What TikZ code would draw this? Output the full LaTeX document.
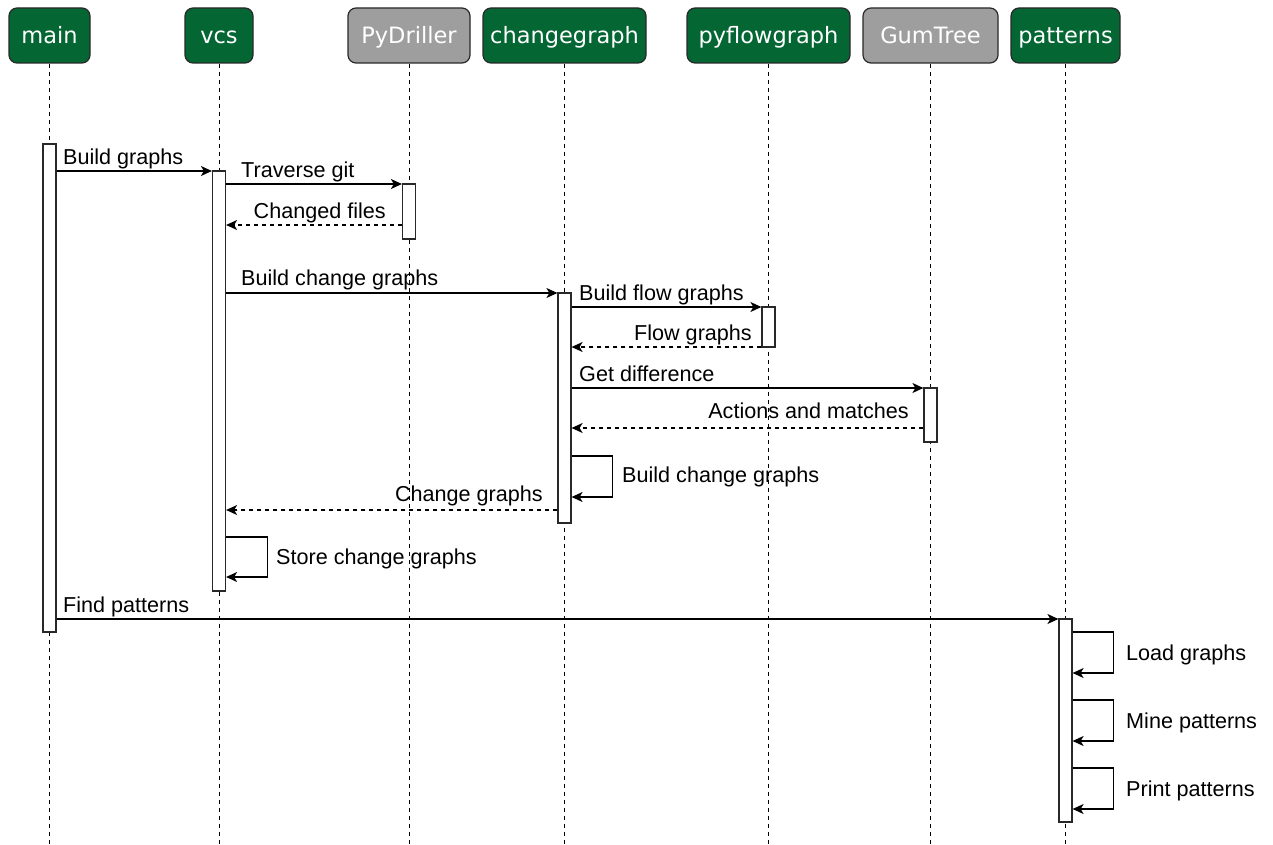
\documentclass[tikz,border=0pt]{standalone}
\usepackage{fontspec}
\setmainfont{Liberation Sans}
\newfontfamily\headfont{DejaVu Sans}
\usetikzlibrary{arrows.meta}
\definecolor{modgreen}{RGB}{3,102,51}
\definecolor{extgray}{RGB}{158,158,158}
\definecolor{edgegray}{RGB}{40,40,40}

\begin{document}
\begin{tikzpicture}[x=1pt,y=-1pt,
  head/.style={draw=edgegray, line width=1.2pt, rounded corners=8pt, minimum height=55pt,
    inner sep=0pt, text height=17pt, text depth=0pt, text=white,
    font=\headfont\fontsize{22.5}{26}\selectfont},
  module/.style={head, fill=modgreen},
  extlib/.style={head, fill=extgray},
  lifeline/.style={draw=black, line width=0.9pt, dash pattern=on 4pt off 4pt},
  act/.style={draw=edgegray, fill=white, line width=1.2pt, minimum width=13pt, inner sep=0pt},
  call/.style={draw=black, line width=1.2pt, -{Stealth[length=11pt,width=10pt,inset=3pt]}},
  reply/.style={call, dash pattern=on 4pt off 4pt},
  lbl/.style={font=\fontsize{21.6}{26}\selectfont, inner sep=0pt}
]
\useasboundingbox (0,0) rectangle (1273,845);

% participants
\node[module, minimum width=81pt]  (main)  at (49.5,35.5)  {main};
\node[module, minimum width=68pt]  (vcs)   at (219,35.5)   {vcs};
\node[extlib, minimum width=122pt] (pyd)   at (409,35.5)   {PyDriller};
\node[module, minimum width=163pt] (cg)    at (564.5,35.5) {changegraph};
\node[module, minimum width=163pt] (pfg)   at (768.5,35.5) {pyflowgraph};
\node[extlib, minimum width=135pt] (gum)   at (930.5,35.5) {GumTree};
\node[module, minimum width=109pt] (pat)   at (1065.5,35.5){patterns};

% lifelines
\foreach \p in {main,vcs,pyd,cg,pfg,gum,pat}
  \draw[lifeline] (\p.south) -- (\p.south |- 0,845);

% activations
\node[act, minimum height=488pt] (mainA) at (main.south |- 0,388)  {};
\node[act, minimum height=420pt] (vcsA)  at (vcs.south |- 0,381)   {};
\node[act, minimum height=55pt]  (pydA)  at (pyd.south |- 0,211.5) {};
\node[act, minimum height=230pt] (cgA)   at (cg.south |- 0,408)    {};
\node[act, minimum height=40pt]  (pfgA)  at (pfg.south |- 0,327)   {};
\node[act, minimum height=54pt]  (gumA)  at (gum.south |- 0,415)   {};
\node[act, minimum height=203pt] (patA)  at (pat.south |- 0,720.5) {};

% messages
\draw[call]  (mainA.east |- 0,171) -- (vcsA.west |- 0,171);
\node[lbl, anchor=base west] (m1) at (63,165) {Build graphs};

\draw[call]  (vcsA.east |- 0,184) -- (pydA.west |- 0,184);
\node[lbl, anchor=base west] (m2) at (241,178) {Traverse git};

\draw[reply] (pydA.west |- 0,225) -- (vcsA.east |- 0,225);
\node[lbl, anchor=base east] (m3) at (386,218) {Changed files};

\draw[call]  (vcsA.east |- 0,293) -- (cgA.west |- 0,293);
\node[lbl, anchor=base west] (m4) at (241,285) {Build change graphs};

\draw[call]  (cgA.east |- 0,307) -- (pfgA.west |- 0,307);
\node[lbl, anchor=base west] (m5) at (579,300) {Build flow graphs};

\draw[reply] (pfgA.west |- 0,347) -- (cgA.east |- 0,347);
\node[lbl, anchor=base east] (m6) at (752,340) {Flow graphs};

\draw[call]  (cgA.east |- 0,388) -- (gumA.west |- 0,388);
\node[lbl, anchor=base west] (m7) at (579,381) {Get difference};

\draw[reply] (gumA.west |- 0,428) -- (cgA.east |- 0,428);
\node[lbl, anchor=base east] (m8) at (909,418) {Actions and matches};

\draw[call]  (cgA.east |- 0,456) -- ++(41,0) |- (cgA.east |- 0,497);
\node[lbl, anchor=base west] (m9) at (622,482) {Build change graphs};

\draw[reply] (cgA.west |- 0,510) -- (vcsA.east |- 0,510);
\node[lbl, anchor=base east] (m10) at (543,501) {Change graphs};

\draw[call]  (vcsA.east |- 0,537) -- ++(41,0) |- (vcsA.east |- 0,577);
\node[lbl, anchor=base west] (m11) at (276,564) {Store change graphs};

\draw[call]  (mainA.east |- 0,619) -- (patA.west |- 0,619);
\node[lbl, anchor=base west] (m12) at (63,612) {Find patterns};

\draw[call]  (patA.east |- 0,632) -- ++(41,0) |- (patA.east |- 0,673);
\node[lbl, anchor=base west] (m13) at (1126,660) {Load graphs};

\draw[call]  (patA.east |- 0,700) -- ++(41,0) |- (patA.east |- 0,741);
\node[lbl, anchor=base west] (m14) at (1126,728) {Mine patterns};

\draw[call]  (patA.east |- 0,768) -- ++(41,0) |- (patA.east |- 0,809);
\node[lbl, anchor=base west] (m15) at (1126,796) {Print patterns};
\end{tikzpicture}
\end{document}
